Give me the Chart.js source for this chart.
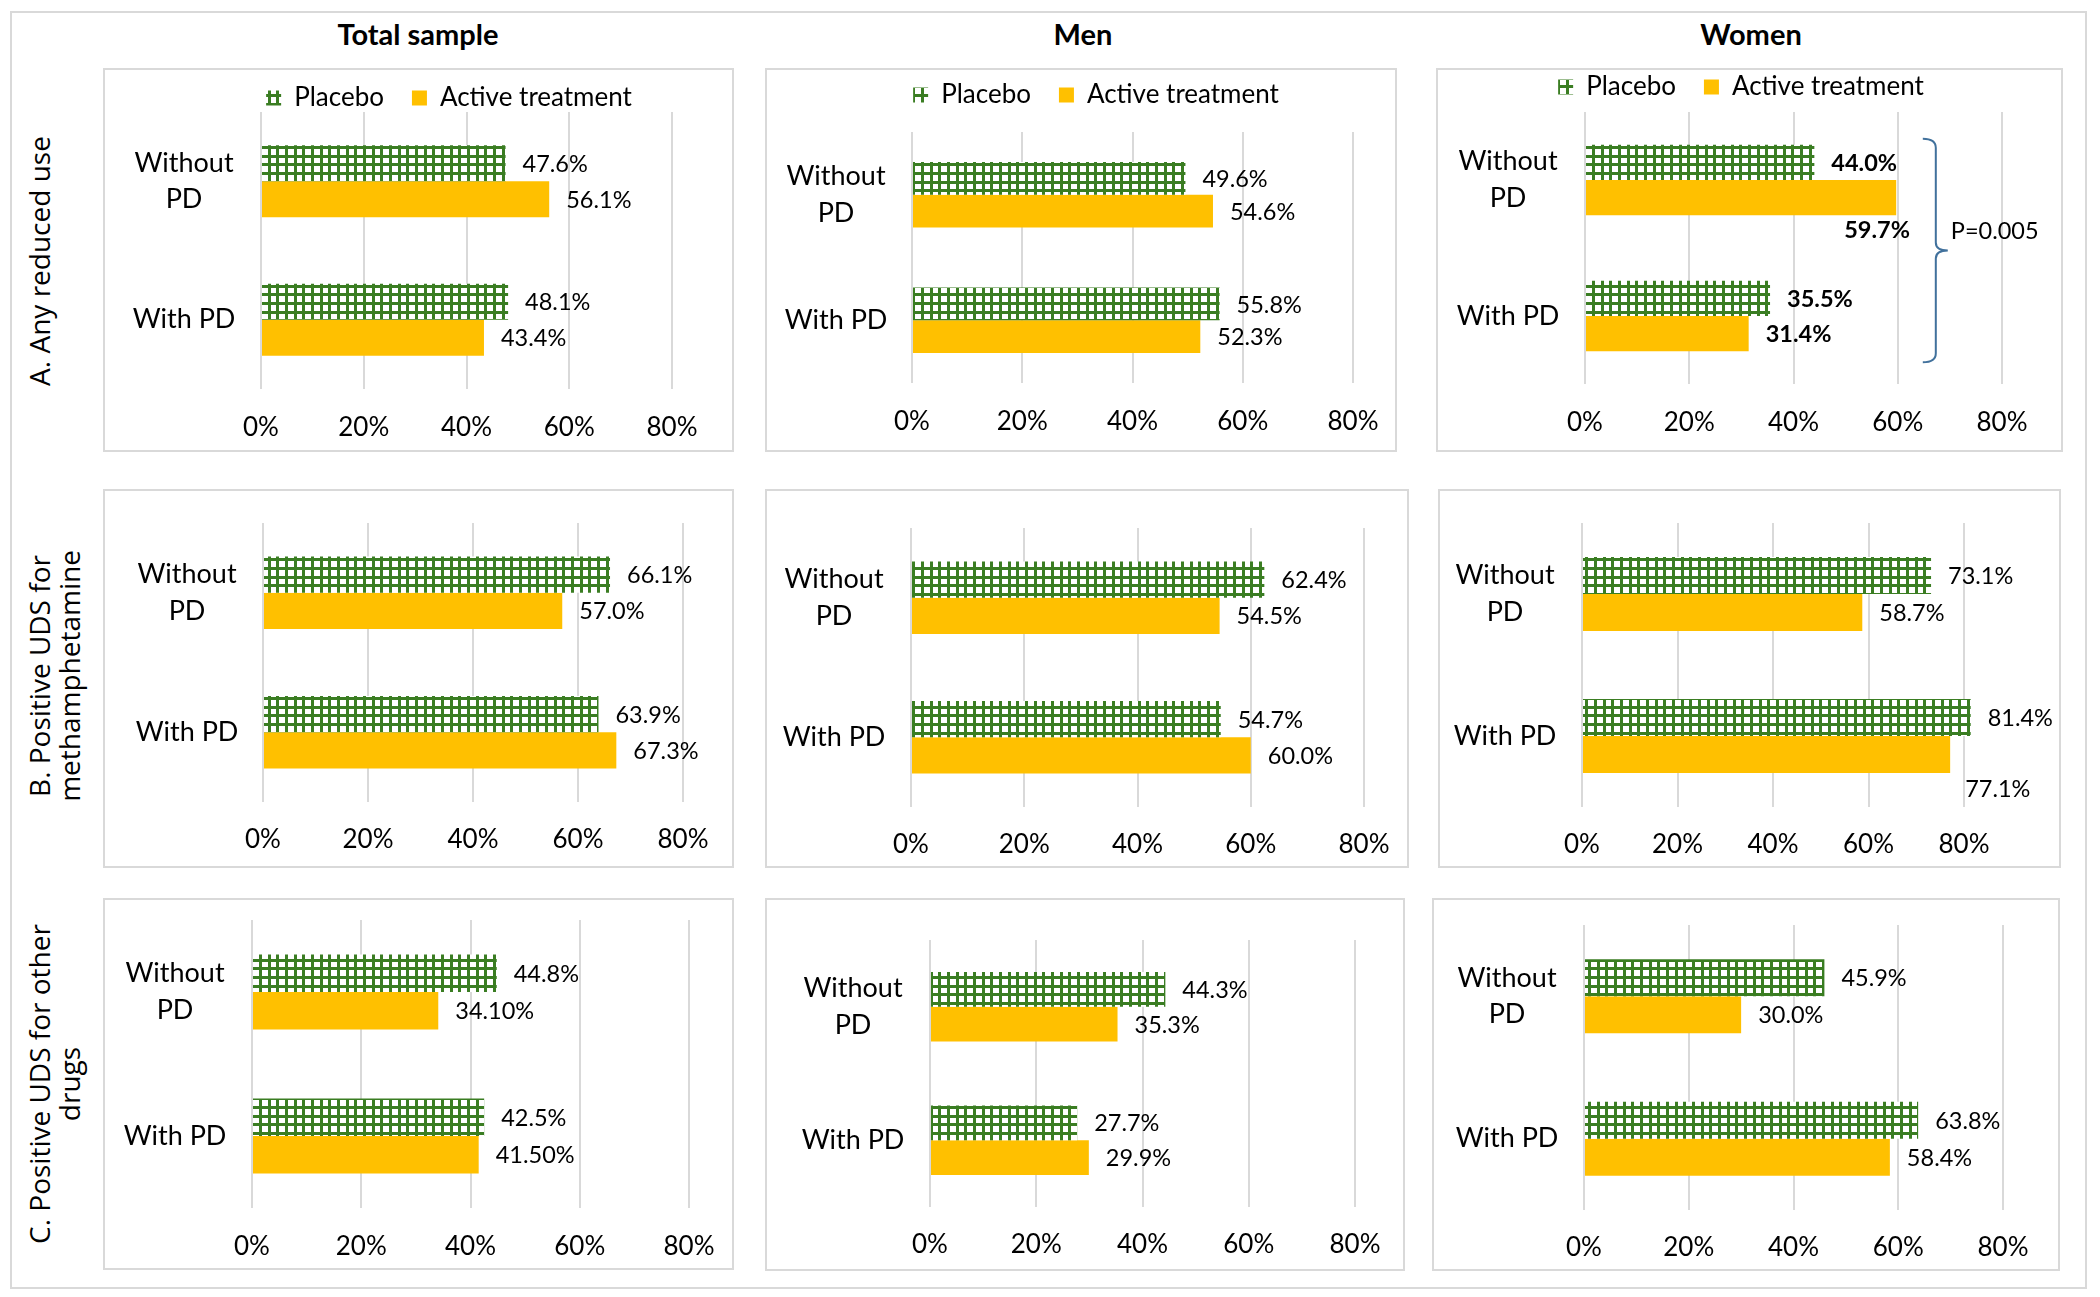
<!DOCTYPE html>
<html>
<head>
<meta charset="utf-8">
<script src="https://cdn.jsdelivr.net/npm/chart.js@4.4.1/dist/chart.umd.min.js"></script>
<style>
html,body{margin:0;padding:0;background:#fff;}
#page{position:relative;width:2100px;height:1297px;overflow:hidden;background:#fff;}
.frame{position:absolute;border:2px solid #D9D9D9;box-sizing:border-box;pointer-events:none;}
canvas{position:absolute;}
.coltitle{position:absolute;font-family:Lato,sans-serif;font-weight:bold;font-size:29px;line-height:29px;transform:translate(-50%,-50%);white-space:nowrap;color:#000;}
.rowtitle{position:absolute;font-family:"Open Sans",sans-serif;font-size:28px;line-height:30px;transform:translate(-50%,-50%) rotate(-90deg);white-space:nowrap;text-align:center;color:#000;}
</style>
</head>
<body>
<div id="page"></div>
<script>
// ---------------- DATA ----------------
const categories = [['Without', 'PD'], 'With PD'];
const seriesNames = ['Placebo', 'Active treatment'];
const tickValues = [0, 20, 40, 60, 80];
const tickLabels = ['0%', '20%', '40%', '60%', '80%'];
const columnTitles = ['Total sample', 'Men', 'Women'];
const rowTitles = [['A. Any reduced use'], ['B. Positive UDS for', 'methamphetamine'], ['C. Positive UDS for other', 'drugs']];
const pValueText = 'P=0.005';

const totalA_placebo = [47.6, 48.1];
const totalA_active  = [56.1, 43.4];
const menA_placebo   = [49.6, 55.8];
const menA_active    = [54.6, 52.3];
const womenA_placebo = [44.0, 35.5];
const womenA_active  = [59.7, 31.4];

const totalB_placebo = [66.1, 63.9];
const totalB_active  = [57.0, 67.3];
const menB_placebo   = [62.4, 54.7];
const menB_active    = [54.5, 60.0];
const womenB_placebo = [73.1, 81.4];
const womenB_active  = [58.7, 77.1];

const totalC_placebo = [44.8, 42.5];
const totalC_active  = [34.1, 41.5];
const menC_placebo   = [44.3, 27.7];
const menC_active    = [35.3, 29.9];
const womenC_placebo = [45.9, 63.8];
const womenC_active  = [30.0, 58.4];

// label decimals as printed in the figure
const totalC_activeDigits = 2;

// ---------------- LAYOUT (page pixels) ----------------
const PANELS = [
  {box:[103,68,631,384],  plot:[261,672,112,389],  tickY:428,  labX:184,  legend:[449,98],  placebo:totalA_placebo, active:totalA_active},
  {box:[765,68,632,384],  plot:[912,1353,132,383], tickY:422,  labX:836,  legend:[1096,95], placebo:menA_placebo,   active:menA_active},
  {box:[1436,68,627,384], plot:[1585,2002,112,384],tickY:423,  labX:1508, legend:[1741,87], placebo:womenA_placebo, active:womenA_active, bold:true, brace:true, adjust:{'1-0':[-69,32]}},
  {box:[103,489,631,379], plot:[263,683,523,802],  tickY:840,  labX:187,  placebo:totalB_placebo, active:totalB_active},
  {box:[765,489,644,379], plot:[911,1364,528,807], tickY:845,  labX:834,  placebo:menB_placebo,   active:menB_active},
  {box:[1438,489,623,379],plot:[1582,1964,523,807],tickY:845,  labX:1505, placebo:womenB_placebo, active:womenB_active, adjust:{'1-1':[-2,34]}},
  {box:[103,898,631,372], plot:[252,689,920,1208], tickY:1247, labX:175,  placebo:totalC_placebo, active:totalC_active, activeDigits:totalC_activeDigits},
  {box:[765,898,640,373], plot:[930,1355,940,1207],tickY:1245, labX:853,  placebo:menC_placebo,   active:menC_active},
  {box:[1432,898,628,373],plot:[1584,2003,925,1210],tickY:1248,labX:1507, placebo:womenC_placebo, active:womenC_active}
];
const COL_TITLE_POS = [[418,33],[1083,33],[1751,33]];
const ROW_TITLE_POS = [[39,261],[54,676],[54,1084]];

const GREEN = '#3A7D22', YELLOW = '#FFC000', GRID = '#D9D9D9';
const TICK_FONT = 26, CAT_FONT = 27, LABEL_FONT = 23.5, LEG_FONT = 26, LEG_PAD = 28, LEG_BOX = 15;

Chart.defaults.font.family = 'Lato';
Chart.defaults.color = '#000';

const page = document.getElementById('page');
function addDiv(cls, css, html) {
  const d = document.createElement('div');
  d.className = cls;
  Object.assign(d.style, css);
  if (html !== undefined) d.innerHTML = html;
  page.appendChild(d);
  return d;
}

function makePattern(ctx) {
  const c = document.createElement('canvas');
  c.width = 26; c.height = 26;
  const g = c.getContext('2d');
  g.fillStyle = '#fff'; g.fillRect(0, 0, 26, 26);
  g.fillStyle = GREEN;
  [0, 9, 17].forEach(v => { g.fillRect(v, 0, 3, 26); g.fillRect(0, v, 26, 3); });
  return ctx.createPattern(c, 'repeat');
}

const barLabelPlugin = {
  id: 'barLabels',
  afterDatasetsDraw(chart, args, opts) {
    const ctx = chart.ctx;
    ctx.save();
    ctx.font = (opts.weight || 'normal') + ' ' + LABEL_FONT + 'px Lato';
    ctx.fillStyle = '#000';
    ctx.textBaseline = 'middle';
    ctx.textAlign = 'left';
    chart.data.datasets.forEach((ds, di) => {
      chart.getDatasetMeta(di).data.forEach((el, i) => {
        const adj = (opts.adjust || {})[di + '-' + i] || [0, 0];
        const digits = ds.labelDigits || 1;
        const txt = ds.data[i].toFixed(digits) + '%';
        ctx.fillText(txt, el.x + 17 + adj[0], el.y + 1 + adj[1]);
      });
    });
    ctx.restore();
  }
};

const bracePlugin = {
  id: 'pBrace',
  afterDraw(chart, args, opts) {
    if (!opts.show) return;
    const ctx = chart.ctx;
    const xs = chart.scales.x;
    const top0 = chart.getDatasetMeta(0).data[0];
    const bot1 = chart.getDatasetMeta(1).data[1];
    const yTop = top0.y - top0.height / 2 - 6;
    const yBot = bot1.y + bot1.height / 2 + 11;
    const X = xs.getPixelForValue(67.3);
    const x0 = X - 13, tip = X + 12;
    const mid = (yTop + yBot) / 2;
    ctx.save();
    ctx.strokeStyle = '#41719C';
    ctx.lineWidth = 2;
    ctx.beginPath();
    ctx.moveTo(x0, yTop);
    ctx.quadraticCurveTo(X, yTop, X, yTop + 9);
    ctx.lineTo(X, mid - 8);
    ctx.quadraticCurveTo(X, mid, tip, mid);
    ctx.quadraticCurveTo(X, mid, X, mid + 8);
    ctx.lineTo(X, yBot - 9);
    ctx.quadraticCurveTo(X, yBot, x0, yBot);
    ctx.stroke();
    ctx.font = 'normal ' + LABEL_FONT + 'px Lato';
    ctx.fillStyle = '#000';
    ctx.textBaseline = 'middle';
    ctx.textAlign = 'left';
    ctx.fillText(pValueText, tip + 3, mid - 19);
    ctx.restore();
  }
};

function buildPanel(p) {
  const [bx, by, bw, bh] = p.box;
  const cv = document.createElement('canvas');
  cv.width = bw; cv.height = bh;
  Object.assign(cv.style, {left: bx + 'px', top: by + 'px', width: bw + 'px', height: bh + 'px'});
  page.appendChild(cv);
  addDiv('frame', {left: bx + 'px', top: by + 'px', width: bw + 'px', height: bh + 'px'});

  const ctx = cv.getContext('2d');
  const L = p.plot[0] - bx, R = p.plot[1] - bx, T = p.plot[2] - by, B = p.plot[3] - by;

  let padTop = T, padRight = bw - R, extra = 0, rightW = 0;
  let legendOpts = {display: false};
  if (p.legend) {
    const cx = p.legend[0] - bx, cy = p.legend[1] - by;
    // the legend spans [0, bw - padRight]; centre it on cx
    padRight = bw - 2 * cx;
    rightW = 2 * cx - R;
    padTop = cy - LEG_PAD - LEG_FONT / 2;
    const natural = LEG_FONT + LEG_PAD + 10;
    const h = T - padTop;
    let maxH;
    if (h < natural) maxH = h; else extra = h - natural;
    legendOpts = {
      display: true, position: 'top', align: 'center', fullSize: true,
      labels: {font: {size: LEG_FONT, family: 'Lato'}, color: '#000', boxWidth: LEG_BOX, boxHeight: LEG_BOX, padding: LEG_PAD}
    };
    if (maxH !== undefined) legendOpts.maxHeight = maxH;
  }

  // category label centring
  ctx.save();
  ctx.font = 'normal ' + CAT_FONT + 'px Lato';
  const widest = Math.max(...categories.flat().map(t => ctx.measureText(t).width));
  ctx.restore();
  const yPad = (L - (p.labX - bx)) - widest / 2;
  const xPad = (p.tickY - p.plot[3]) - TICK_FONT * 1.2 / 2;

  const scales = {
    x: {
      type: 'linear', position: 'bottom', min: tickValues[0], max: tickValues[tickValues.length - 1],
      afterBuildTicks: s => { s.ticks = tickValues.map(v => ({value: v})); },
      ticks: {callback: (v, i) => tickLabels[i], font: {size: TICK_FONT, family: 'Lato'}, color: '#000', padding: xPad, maxRotation: 0, autoSkip: false},
      grid: {color: GRID, lineWidth: 2, drawTicks: false},
      border: {display: false},
      afterFit: s => { s.height = bh - B; s.paddingLeft = 0; s.paddingRight = 0; }
    },
    y: {
      type: 'category', position: 'left',
      ticks: {font: {size: CAT_FONT, family: 'Lato', lineHeight: 1.36}, color: '#000', crossAlign: 'center', padding: yPad, autoSkip: false},
      grid: {display: false, drawTicks: false},
      border: {display: false},
      afterFit: s => { s.width = L; s.paddingTop = 0; s.paddingBottom = 0; }
    }
  };
  if (extra > 0) {
    scales.xTop = {
      type: 'linear', position: 'top', display: true,
      grid: {display: false, drawTicks: false}, ticks: {display: false}, border: {display: false},
      afterFit: s => { s.height = extra; s.paddingLeft = 0; s.paddingRight = 0; }
    };
  }
  if (rightW > 0) {
    scales.yRight = {
      type: 'linear', position: 'right', display: true,
      grid: {display: false, drawTicks: false}, ticks: {display: false}, border: {display: false},
      afterFit: s => { s.width = rightW; s.paddingTop = 0; s.paddingBottom = 0; }
    };
  }

  const pattern = makePattern(ctx);
  new Chart(cv, {
    type: 'bar',
    data: {
      labels: categories,
      datasets: [
        {label: seriesNames[0], data: p.placebo, backgroundColor: pattern, borderWidth: 0, xAxisID: 'x', yAxisID: 'y',
         categoryPercentage: 0.52, barPercentage: 1, clip: false},
        {label: seriesNames[1], data: p.active, backgroundColor: YELLOW, borderWidth: 0, xAxisID: 'x', yAxisID: 'y',
         categoryPercentage: 0.52, barPercentage: 1, clip: false, labelDigits: p.activeDigits || 1}
      ]
    },
    options: {
      indexAxis: 'y',
      responsive: false,
      animation: false,
      devicePixelRatio: 1,
      layout: {autoPadding: false, padding: {left: 0, right: padRight, top: padTop, bottom: 0}},
      scales: scales,
      plugins: {
        legend: legendOpts,
        tooltip: {enabled: false},
        title: {display: false},
        barLabels: {weight: p.bold ? 'bold' : 'normal', adjust: p.adjust || {}},
        pBrace: {show: !!p.brace}
      }
    },
    plugins: [barLabelPlugin, bracePlugin]
  });
}

function buildAll() {
  addDiv('frame', {left: '10px', top: '11px', width: '2077px', height: '1278px'});
  columnTitles.forEach((t, i) => {
    addDiv('coltitle', {left: COL_TITLE_POS[i][0] + 'px', top: COL_TITLE_POS[i][1] + 'px'}, t);
  });
  rowTitles.forEach((lines, i) => {
    const d = addDiv('rowtitle', {left: ROW_TITLE_POS[i][0] + 'px', top: ROW_TITLE_POS[i][1] + 'px'});
    d.innerHTML = lines.join('<br>');
  });
  PANELS.forEach(buildPanel);
}

const fontLoads = document.fonts ? Promise.all([
  document.fonts.load('26px Lato'), document.fonts.load('bold 26px Lato'), document.fonts.load('28px "Open Sans"')
]).catch(() => {}) : Promise.resolve();
fontLoads.then(buildAll, buildAll);
</script>
</body>
</html>
